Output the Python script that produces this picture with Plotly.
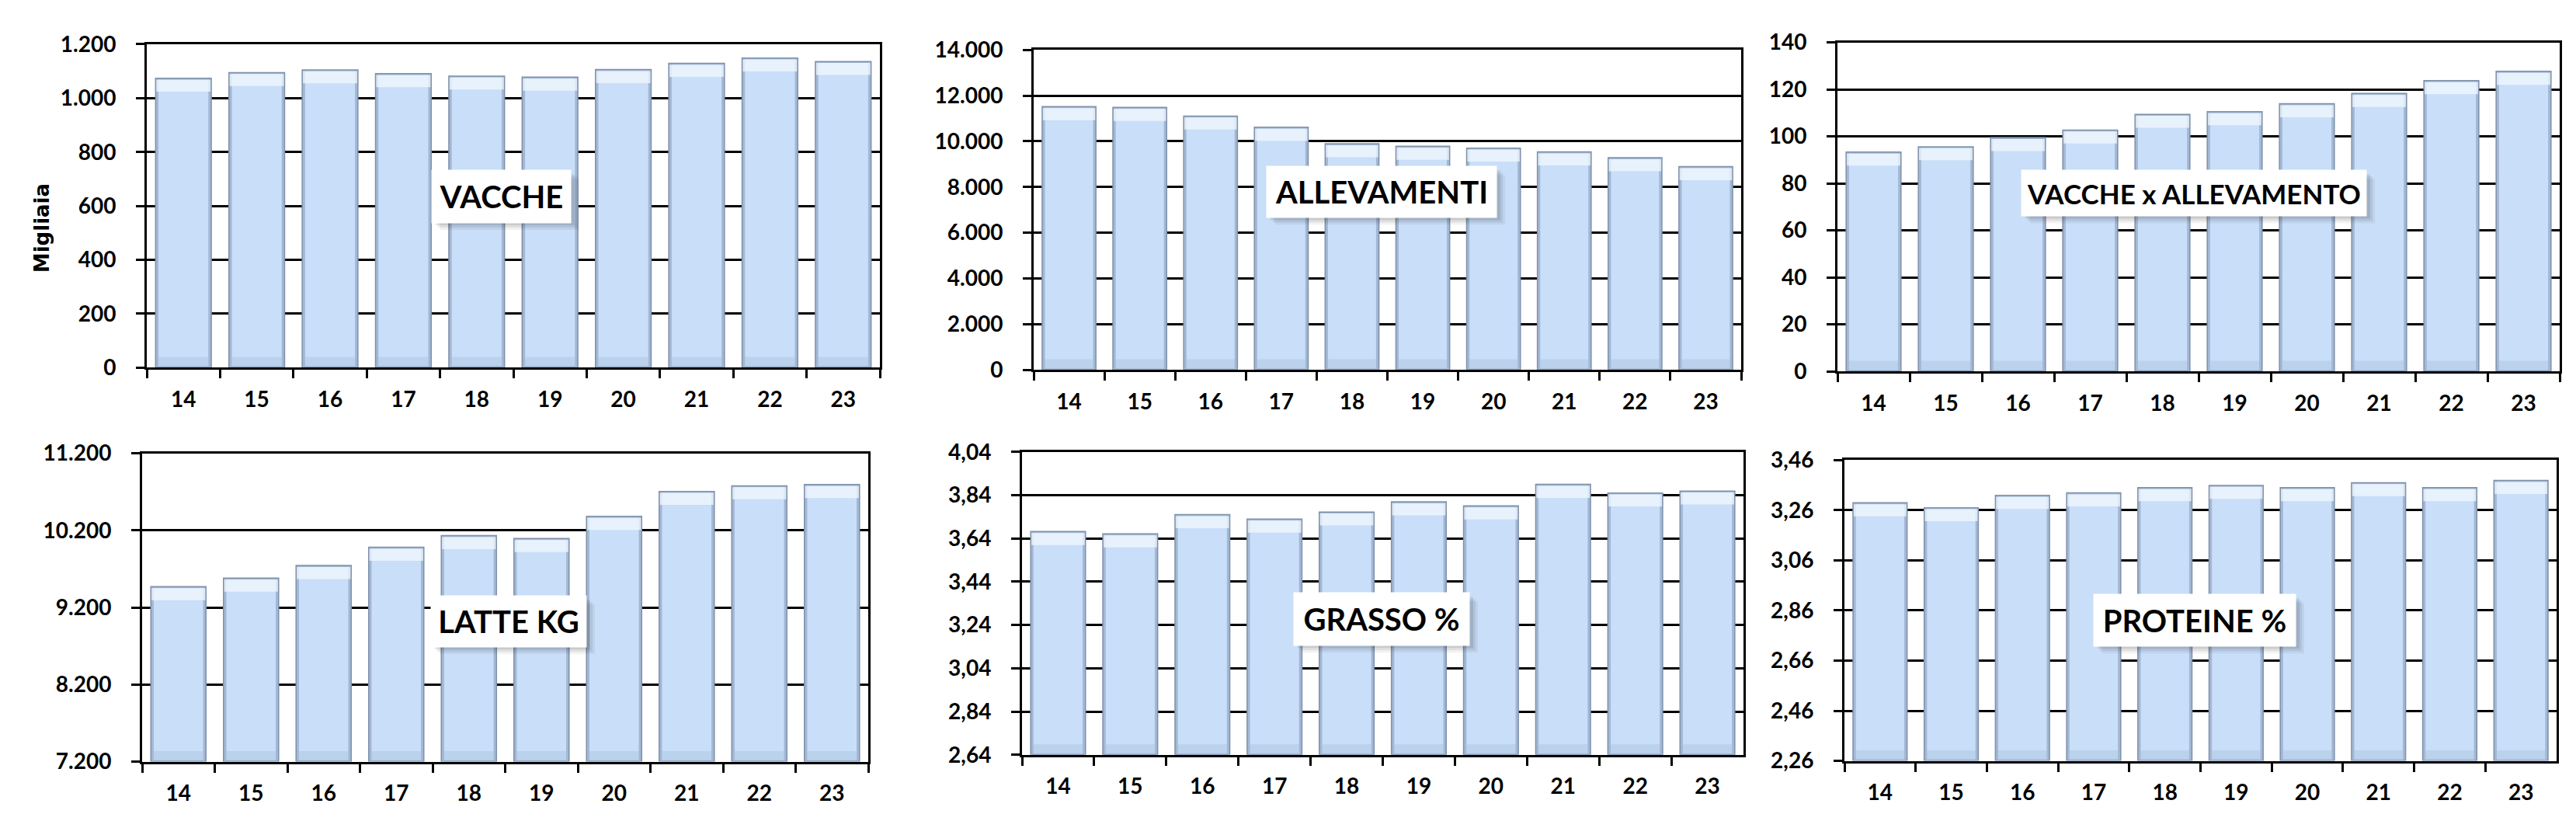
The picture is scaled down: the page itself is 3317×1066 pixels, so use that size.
import plotly.graph_objects as go

# ---------------- data ----------------
years = ["14", "15", "16", "17", "18", "19", "20", "21", "22", "23"]

vacche = [1074, 1095, 1105, 1091, 1082, 1078, 1106, 1129, 1149, 1136]          # migliaia
allevamenti = [11518, 11485, 11106, 10617, 9893, 9782, 9704, 9537, 9281, 8892]
vacche_x_allev = [93.3, 95.6, 99.5, 102.7, 109.4, 110.5, 113.9, 118.3, 123.7, 127.7]
latte_kg = [9470, 9581, 9744, 9981, 10132, 10095, 10382, 10706, 10779, 10796]
grasso = [3.672, 3.661, 3.750, 3.729, 3.762, 3.809, 3.790, 3.890, 3.850, 3.859]
proteine = [3.290, 3.270, 3.319, 3.329, 3.350, 3.359, 3.350, 3.370, 3.350, 3.379]

titles = ["VACCHE", "ALLEVAMENTI", "VACCHE x ALLEVAMENTO", "LATTE KG", "GRASSO %", "PROTEINE %"]

ticks_vacche = [0, 200, 400, 600, 800, 1000, 1200]
ticks_allev = [0, 2000, 4000, 6000, 8000, 10000, 12000, 14000]
ticks_vxa = [0, 20, 40, 60, 80, 100, 120, 140]
ticks_latte = [7200, 8200, 9200, 10200, 11200]
ticks_grasso = [2.64, 2.84, 3.04, 3.24, 3.44, 3.64, 3.84, 4.04]
ticks_proteine = [2.26, 2.46, 2.66, 2.86, 3.06, 3.26, 3.46]

labels_vacche = ["0", "200", "400", "600", "800", "1.000", "1.200"]
labels_allev = ["0", "2.000", "4.000", "6.000", "8.000", "10.000", "12.000", "14.000"]
labels_vxa = ["0", "20", "40", "60", "80", "100", "120", "140"]
labels_latte = ["7.200", "8.200", "9.200", "10.200", "11.200"]
labels_grasso = ["2,64", "2,84", "3,04", "3,24", "3,44", "3,64", "3,84", "4,04"]
labels_proteine = ["2,26", "2,46", "2,66", "2,86", "3,06", "3,26", "3,46"]

series = [vacche, allevamenti, vacche_x_allev, latte_kg, grasso, proteine]
tickv = [ticks_vacche, ticks_allev, ticks_vxa, ticks_latte, ticks_grasso, ticks_proteine]
tickt = [labels_vacche, labels_allev, labels_vxa, labels_latte, labels_grasso, labels_proteine]

# ---------------- layout (pixels) ----------------
W, H = 3317, 1066
panels = [
    dict(x0=181, x1=1125, y0=32, y1=462),
    dict(x0=1323, x1=2234, y0=39.5, y1=465),
    dict(x0=2358, x1=3288, y0=29.5, y1=467),
    dict(x0=175, x1=1110, y0=576, y1=986),
    dict(x0=1308, x1=2237, y0=574, y1=977),
    dict(x0=2367, x1=3284, y0=585, y1=985),
]
boxes = [
    (548, 200, 727, 268),
    (1623, 195, 1919, 261),
    (2595, 200, 3039, 259),
    (547, 766, 747, 832),
    (1658, 762, 1884, 830),
    (2688, 764, 2948, 831),
]
box_font = [40, 40, 35, 40, 40, 40]

FONT = "Lato, 'Open Sans', Arial, sans-serif"
BAR_OUT = "#a3b8d4"
BAR_IN = "#c9def8"
BAR_EDGE = "#7f91aa"
BW = 0.76
BW_IN = 0.68

fig = go.Figure()
layout = dict(
    width=W, height=H,
    margin=dict(l=0, r=0, t=0, b=0),
    paper_bgcolor="white", plot_bgcolor="white",
    showlegend=False, barmode="overlay",
    separators=",.",
    font=dict(family=FONT, size=28, color="black", weight=700),
)
shapes = []
annotations = []

for i, (vals, tv, tt, p) in enumerate(zip(series, tickv, tickt, panels)):
    n = i + 1
    xa = "x" if n == 1 else f"x{n}"
    ya = "y" if n == 1 else f"y{n}"
    rng = [tv[0], tv[-1]]
    span = rng[1] - rng[0]
    unit = span / (p["y1"] - p["y0"])  # data units per pixel

    # outer (darker edge) bar
    fig.add_trace(go.Bar(
        x=years, y=[v - rng[0] for v in vals], base=rng[0],
        width=BW, xaxis=xa, yaxis=ya,
        marker=dict(color=BAR_OUT, line=dict(color=BAR_EDGE, width=1.5)),
        hoverinfo="skip",
    ))
    # inner lighter face
    fig.add_trace(go.Bar(
        x=years, y=[v - rng[0] - 4 * unit for v in vals], base=rng[0] + 2 * unit,
        width=BW_IN, xaxis=xa, yaxis=ya,
        marker=dict(color=BAR_IN, line=dict(width=0)),
        hoverinfo="skip",
    ))
    # top bevel highlight
    fig.add_trace(go.Bar(
        x=years, y=[16 * unit] * len(vals), base=[v - 18 * unit for v in vals],
        width=BW - 0.02, xaxis=xa, yaxis=ya,
        marker=dict(color="rgba(240,248,255,0.75)", line=dict(width=0)),
        hoverinfo="skip",
    ))
    # bottom bevel shade
    fig.add_trace(go.Bar(
        x=years, y=[12 * unit] * len(vals), base=rng[0] + 2 * unit,
        width=BW_IN, xaxis=xa, yaxis=ya,
        marker=dict(color="rgba(90,120,160,0.12)", line=dict(width=0)),
        hoverinfo="skip",
    ))

    xkey = "xaxis" if n == 1 else f"xaxis{n}"
    ykey = "yaxis" if n == 1 else f"yaxis{n}"
    layout[xkey] = dict(
        domain=[p["x0"] / W, p["x1"] / W], anchor=ya,
        type="category", categoryorder="array", categoryarray=years,
        showline=True, linecolor="black", linewidth=3, mirror=True,
        ticks="outside", ticklen=11, tickwidth=3, tickcolor="black",
        tickson="boundaries", ticklabelstandoff=14,
        showgrid=False, zeroline=False,
        tickfont=dict(family=FONT, size=28, color="black", weight=700),
    )
    layout[ykey] = dict(
        domain=[1 - p["y1"] / H, 1 - p["y0"] / H], anchor=xa,
        range=rng, tickmode="array", tickvals=tv, ticktext=tt,
        showline=True, linecolor="black", linewidth=3, mirror=True,
        ticks="outside", ticklen=11, tickwidth=3, tickcolor="black",
        ticklabelstandoff=20,
        showgrid=True, gridcolor="black", gridwidth=3, zeroline=False,
        tickfont=dict(family=FONT, size=28, color="black", weight=700),
    )

    # label box with soft shadow
    bx0, by0, bx1, by1 = boxes[i]
    for off, op in [(11, 0.05), (8, 0.07), (5, 0.09)]:
        shapes.append(dict(
            type="rect", xref="paper", yref="paper", layer="above",
            x0=(bx0 + off) / W, x1=(bx1 + off) / W,
            y0=1 - (by1 + off) / H, y1=1 - (by0 + off) / H,
            fillcolor=f"rgba(0,0,0,{op})", line=dict(width=0),
        ))
    annotations.append(dict(
        xref="paper", yref="paper",
        x=(bx0 + bx1) / 2 / W, y=1 - (by0 + by1) / 2 / H,
        xanchor="center", yanchor="middle",
        text=f"<b>{titles[i]}</b>", showarrow=False,
        width=bx1 - bx0, height=by1 - by0,
        bgcolor="white", borderpad=0,
        font=dict(family=FONT, size=box_font[i], color="black"),
    ))

annotations.append(dict(
    xref="paper", yref="paper", x=46 / W, y=1 - 277 / H,
    xanchor="center", yanchor="middle", textangle=-90,
    text="<b>Migliaia</b>", showarrow=False,
    font=dict(family="DejaVu Sans, Verdana, sans-serif", size=26, color="black"),
))

layout["shapes"] = shapes
layout["annotations"] = annotations
fig.update_layout(**layout)

fig.write_html("out.html")
